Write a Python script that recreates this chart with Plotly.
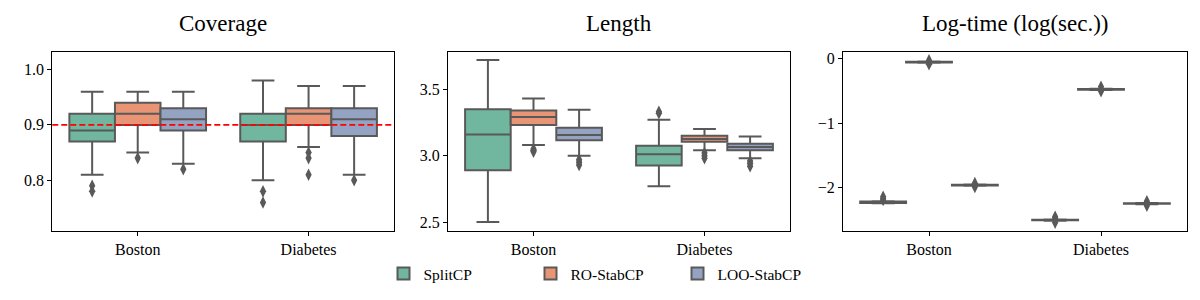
import plotly.graph_objects as go

categories = ["Boston", "Diabetes"]
methods = ["SplitCP", "RO-StabCP", "LOO-StabCP"]
colors = ["#71b7a0", "#e99575", "#95a3c3"]

# five-number summaries per category: [lower whisker, q1, median, q3, upper whisker]
cov_splitcp = [[0.81, 0.87, 0.89, 0.92, 0.96], [0.80, 0.87, 0.90, 0.92, 0.98]]
cov_rostab = [[0.85, 0.90, 0.92, 0.94, 0.96], [0.86, 0.90, 0.92, 0.93, 0.97]]
cov_loostab = [[0.83, 0.89, 0.91, 0.93, 0.96], [0.81, 0.88, 0.91, 0.93, 0.97]]
cov_splitcp_out = [[0.79, 0.78], [0.78, 0.76]]
cov_rostab_out = [[0.84], [0.85, 0.84, 0.81]]
cov_loostab_out = [[0.82], [0.80]]

len_splitcp = [[2.50, 2.89, 3.16, 3.35, 3.72], [2.77, 2.925, 3.01, 3.075, 3.27]]
len_rostab = [[3.08, 3.23, 3.29, 3.34, 3.43], [3.04, 3.105, 3.125, 3.15, 3.20]]
len_loostab = [[3.00, 3.115, 3.155, 3.21, 3.345], [2.98, 3.04, 3.065, 3.09, 3.145]]
len_splitcp_out = [[], [3.33, 3.32]]
len_rostab_out = [[3.05, 3.04, 3.03], [3.02, 3.00, 2.98]]
len_loostab_out = [[2.97, 2.95, 2.93], [2.96, 2.94, 2.92]]

time_splitcp = [[-2.24, -2.235, -2.225, -2.215, -2.21], [-2.51, -2.505, -2.5, -2.495, -2.49]]
time_rostab = [[-0.07, -0.065, -0.06, -0.055, -0.05], [-0.49, -0.485, -0.48, -0.475, -0.47]]
time_loostab = [[-1.97, -1.965, -1.96, -1.955, -1.95], [-2.255, -2.25, -2.245, -2.24, -2.235]]
time_splitcp_out = [[-2.14, -2.17, -2.19], [-2.45, -2.47, -2.54]]
time_rostab_out = [[-0.03, -0.09], [-0.44, -0.51]]
time_loostab_out = [[-1.93, -1.99], [-2.21, -2.28]]

panels = [
    ("Coverage", [cov_splitcp, cov_rostab, cov_loostab],
     [cov_splitcp_out, cov_rostab_out, cov_loostab_out], [0.709, 1.031], [0.8, 0.9, 1.0], ".1f"),
    ("Length", [len_splitcp, len_rostab, len_loostab],
     [len_splitcp_out, len_rostab_out, len_loostab_out], [2.435, 3.778], [2.5, 3.0, 3.5], ".1f"),
    ("Log-time (log(sec.))", [time_splitcp, time_rostab, time_loostab],
     [time_splitcp_out, time_rostab_out, time_loostab_out], [-2.665, 0.093], [-2, -1, 0], "d"),
]

W, H = 1200, 300
OFF = 8  # page body offset of the rendered figure


def px_x(x):
    return (x - OFF) / W


def px_y(y):
    return 1 - (y - OFF) / H


x_domains = [(px_x(52.3), px_x(394)), (px_x(448), px_x(790)), (px_x(843), px_x(1187))]
y_domain = (px_y(230.7), px_y(52.3))

FONT = "Liberation Serif, Times New Roman, serif"
LINE = "#595959"
group_width = 0.8
bw = group_width / len(methods)

fig = go.Figure()
for p, (title, stats, outs, yr, ytv, yfmt) in enumerate(panels):
    xa = "x" if p == 0 else f"x{p+1}"
    ya = "y" if p == 0 else f"y{p+1}"
    for m, method in enumerate(methods):
        off = -group_width / 2 + bw * (m + 0.5)
        xs = [i + off for i in range(len(categories))]
        s = stats[m]
        fig.add_trace(go.Box(
            x=xs,
            lowerfence=[v[0] for v in s], q1=[v[1] for v in s], median=[v[2] for v in s],
            q3=[v[3] for v in s], upperfence=[v[4] for v in s],
            width=bw, whiskerwidth=0.5,
            fillcolor=colors[m], line=dict(color=LINE, width=2),
            name=method, legendgroup=method, showlegend=(p == 0),
            boxpoints=False, xaxis=xa, yaxis=ya,
        ))
        ox, oy = [], []
        for i, vals in enumerate(outs[m]):
            for v in vals:
                ox.append(i + off)
                oy.append(v)
        fig.add_trace(go.Scatter(
            x=ox, y=oy, mode="markers",
            marker=dict(symbol="diamond-tall", size=9, color=LINE, line=dict(width=0)),
            showlegend=False, hoverinfo="y", xaxis=xa, yaxis=ya,
        ))
    axis_common = dict(showline=True, linecolor="black", linewidth=1, mirror=True,
                       showgrid=False, zeroline=False, ticks="outside", ticklen=4,
                       tickwidth=1, automargin=False,
                       tickcolor="black", tickfont=dict(family=FONT, size=16, color="black"))
    fig.update_layout(**{
        ("xaxis" if p == 0 else f"xaxis{p+1}"): dict(
            domain=x_domains[p], anchor=ya, range=[-0.5, len(categories) - 0.5],
            tickvals=list(range(len(categories))), ticktext=categories, **axis_common),
        ("yaxis" if p == 0 else f"yaxis{p+1}"): dict(
            domain=y_domain, anchor=xa, range=yr, tickvals=ytv, tickformat=yfmt,
            **axis_common),
    })
    fig.add_annotation(text=title, xref="paper", yref="paper",
                       x=(x_domains[p][0] + x_domains[p][1]) / 2, y=px_y(23),
                       xanchor="center", yanchor="middle", showarrow=False,
                       font=dict(family=FONT, size=23, color="black"))

# target coverage reference line
fig.add_shape(type="line", xref="x domain", yref="y", x0=0, x1=1, y0=0.9, y1=0.9,
              line=dict(color="red", width=1.8, dash="6px,3px"))

fig.update_layout(
    template="none",
    width=W, height=H, margin=dict(l=0, r=0, t=0, b=0, autoexpand=False),
    plot_bgcolor="white", paper_bgcolor="white",
    boxmode="overlay",
    legend=dict(orientation="h", x=px_x(604), xanchor="center", y=px_y(274), yanchor="middle",
                entrywidth=102, entrywidthmode="pixels",
                font=dict(family=FONT, size=15.5, color="black"), traceorder="normal"),
    font=dict(family=FONT, color="black"),
)

fig.write_html("out.html")
